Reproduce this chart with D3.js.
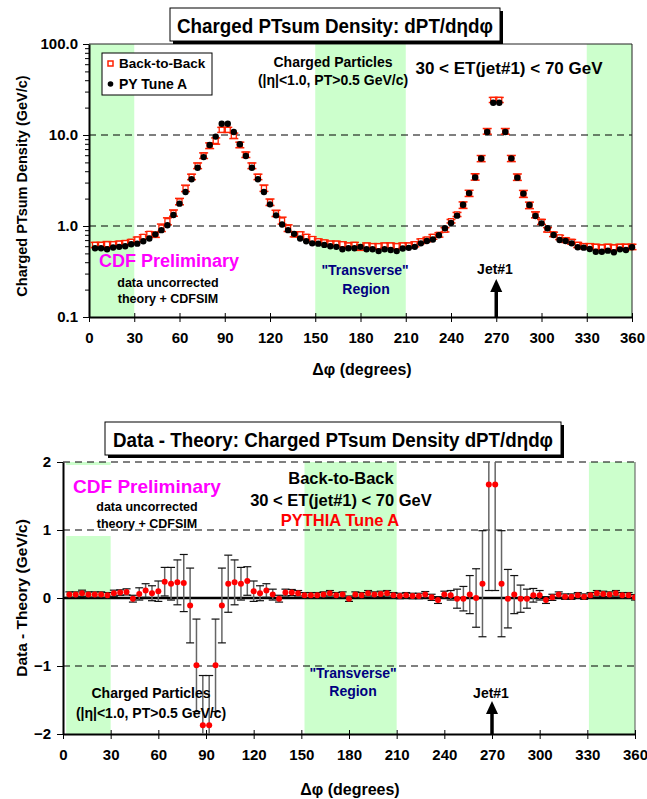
<!DOCTYPE html>
<html>
<head>
<meta charset="utf-8">
<script src="https://cdn.jsdelivr.net/npm/d3@7"></script>
<style>
body { margin: 0; background: #fff; }
text { font-family: "Liberation Sans", Arial, sans-serif; font-weight: bold; }
</style>
</head>
<body>
<div id="chart"></div>
<script>
// delta phi bin centres (degrees)
var phi = [4, 8, 12, 16, 20, 24, 28, 32, 36, 40,
	44, 48, 52, 56, 60, 64, 68, 72, 76, 80,
	84, 88, 92, 96, 100, 104, 108, 112, 116, 120,
	124, 128, 132, 136, 140, 144, 148, 152, 156, 160,
	164, 168, 172, 176, 180, 184, 188, 192, 196, 200,
	204, 208, 212, 216, 220, 224, 228, 232, 236, 240,
	244, 248, 252, 256, 260, 264, 268, 272, 276, 280,
	284, 288, 292, 296, 300, 304, 308, 312, 316, 320,
	324, 328, 332, 336, 340, 344, 348, 352, 356, 360];

// Back-to-Back data (GeV/c)
var dataVal = [0.62, 0.62, 0.63, 0.63, 0.64, 0.65, 0.67, 0.71, 0.76, 0.82,
	0.80, 0.96, 1.13, 1.39, 1.86, 2.60, 3.47, 4.60, 5.94, 7.64,
	8.61, 11.4, 11.4, 9.81, 7.79, 6.08, 4.60, 3.47, 2.61, 1.83,
	1.38, 1.15, 0.95, 0.81, 0.81, 0.76, 0.72, 0.68, 0.66, 0.64,
	0.64, 0.63, 0.61, 0.62, 0.58, 0.61, 0.60, 0.60, 0.61, 0.61,
	0.60, 0.61, 0.61, 0.63, 0.68, 0.71, 0.76, 0.80, 0.91, 1.13,
	1.34, 1.70, 2.29, 3.47, 5.52, 11.0, 24.3, 24.3, 11.0, 5.53,
	3.45, 2.26, 1.69, 1.33, 1.11, 0.91, 0.81, 0.75, 0.70, 0.67,
	0.62, 0.60, 0.60, 0.59, 0.58, 0.59, 0.58, 0.59, 0.59, 0.59];

// PY Tune A
var theoryVal = [0.57, 0.57, 0.555, 0.58, 0.59, 0.60, 0.63, 0.64, 0.68, 0.73,
	0.81, 0.90, 1.02, 1.32, 1.76, 2.36, 3.26, 4.37, 5.72, 7.75,
	9.6, 13.3, 13.3, 10.8, 7.9, 5.87, 4.37, 3.26, 2.36, 1.73,
	1.31, 1.04, 0.90, 0.82, 0.73, 0.68, 0.645, 0.64, 0.62, 0.60,
	0.59, 0.555, 0.57, 0.57, 0.59, 0.555, 0.555, 0.53, 0.555, 0.545,
	0.53, 0.565, 0.575, 0.59, 0.645, 0.684, 0.71, 0.79, 0.943, 1.08,
	1.30, 1.71, 2.30, 3.42, 5.52, 10.8, 22.6, 22.6, 10.8, 5.54,
	3.40, 2.27, 1.70, 1.29, 1.07, 0.943, 0.796, 0.702, 0.684, 0.645,
	0.583, 0.578, 0.559, 0.522, 0.522, 0.536, 0.514, 0.554, 0.545, 0.583];

// data - theory
var diffVal = [0.05, 0.05, 0.07, 0.05, 0.05, 0.05, 0.04, 0.07, 0.08, 0.09,
	-0.01, 0.06, 0.11, 0.07, 0.10, 0.24, 0.21, 0.23, 0.22, -0.11,
	-0.99, -1.87, -1.87, -0.99, -0.11, 0.21, 0.23, 0.21, 0.25, 0.10,
	0.07, 0.11, 0.05, -0.01, 0.08, 0.08, 0.07, 0.04, 0.04, 0.04,
	0.05, 0.07, 0.04, 0.05, -0.01, 0.05, 0.04, 0.07, 0.05, 0.06,
	0.07, 0.04, 0.03, 0.04, 0.03, 0.03, 0.05, 0.01, -0.03, 0.05,
	0.04, -0.01, -0.01, 0.05, 0.00, 0.21, 1.67, 1.67, 0.21, -0.01,
	0.05, -0.01, -0.01, 0.04, 0.04, -0.03, 0.01, 0.05, 0.02, 0.02,
	0.04, 0.02, 0.04, 0.07, 0.06, 0.05, 0.07, 0.04, 0.04, 0.01];

// errors (half length)
var errVal = [0.04, 0.04, 0.045, 0.04, 0.04, 0.04, 0.04, 0.045, 0.04, 0.045,
	0.05, 0.09, 0.10, 0.11, 0.15, 0.21, 0.24, 0.33, 0.42, 0.55,
	0.68, 0.73, 0.73, 0.68, 0.55, 0.42, 0.33, 0.24, 0.21, 0.15,
	0.11, 0.10, 0.08, 0.05, 0.05, 0.045, 0.04, 0.04, 0.04, 0.04,
	0.04, 0.04, 0.04, 0.04, 0.04, 0.04, 0.04, 0.04, 0.04, 0.04,
	0.04, 0.04, 0.04, 0.04, 0.04, 0.04, 0.045, 0.045, 0.05, 0.05,
	0.07, 0.14, 0.18, 0.28, 0.43, 0.78, 1.56, 1.56, 0.78, 0.43,
	0.28, 0.20, 0.14, 0.10, 0.07, 0.05, 0.045, 0.04, 0.04, 0.04,
	0.04, 0.04, 0.04, 0.04, 0.04, 0.04, 0.04, 0.04, 0.04, 0.04];

var xTicks = [0, 30, 60, 90, 120, 150, 180, 210, 240, 270, 300, 330, 360];
var topYTicks = [0.1, 1, 10, 100];
var topYLabels = ["0.1", "1.0", "10.0", "100.0"];
var botYTicks = [-2, -1, 0, 1, 2];
var topBands = [[0, 30], [150, 210], [330, 360]];
var botBands = [[2, 30], [152, 210], [331, 360]];

var svg = d3.select("#chart").append("svg")
	.attr("width", 647)
	.attr("height", 799);

var points = phi.map(function(p, i) {
	return { phi: p, data: dataVal[i], theory: theoryVal[i], diff: diffVal[i], err: errVal[i] };
});

function label(x, y, txt, size, color, anchor, len) {
	var t = svg.append("text")
		.attr("x", x)
		.attr("y", y)
		.attr("dy", "0.35em")
		.attr("text-anchor", anchor || "middle")
		.style("font-size", size + "px")
		.style("fill", color || "#000")
		.text(txt);
	if (len) t.attr("textLength", len).attr("lengthAdjust", "spacingAndGlyphs");
	return t;
}

function titleBox(x, y, w, h, txt, len) {
	svg.append("rect").attr("x", x + 3).attr("y", y + 3).attr("width", w).attr("height", h).attr("fill", "#000");
	svg.append("rect").attr("x", x).attr("y", y).attr("width", w).attr("height", h)
		.attr("fill", "#fff").attr("stroke", "#000").attr("stroke-width", 1);
	label(x + w / 2, y + h / 2 + 1, txt, 20, "#000", "middle", len);
}

function arrow(x, yTip, yBase) {
	svg.append("line").attr("x1", x).attr("x2", x).attr("y1", yBase).attr("y2", yTip + 10)
		.attr("stroke", "#000").attr("stroke-width", 3.5);
	svg.append("path")
		.attr("d", "M" + x + "," + yTip + "L" + (x - 6) + "," + (yTip + 13) + "L" + (x + 6) + "," + (yTip + 13) + "Z")
		.attr("fill", "#000");
}

// ---------------- top panel ----------------
var xTop = d3.scaleLinear().domain([0, 360]).range([89, 632]);
var yTop = d3.scaleLog().domain([0.1, 100]).range([317, 44]);

var gTop = svg.append("g");

gTop.selectAll("rect.band").data(topBands).enter().append("rect")
	.attr("class", "band")
	.attr("x", function(d) { return xTop(d[0]); })
	.attr("width", function(d) { return xTop(d[1]) - xTop(d[0]); })
	.attr("y", yTop(100))
	.attr("height", yTop(0.1) - yTop(100))
	.attr("fill", "#ccffcc");

gTop.selectAll("line.grid").data([1, 10]).enter().append("line")
	.attr("x1", xTop(0)).attr("x2", xTop(360))
	.attr("y1", function(d) { return yTop(d); })
	.attr("y2", function(d) { return yTop(d); })
	.attr("stroke", "#000").attr("stroke-dasharray", "7,5");

// frame top / right
gTop.append("path")
	.attr("d", "M" + xTop(0) + "," + yTop(100) + "H" + xTop(360) + "V" + yTop(0.1))
	.attr("fill", "none").attr("stroke", "#222").attr("stroke-width", 1);

// minor log ticks
gTop.append("g")
	.attr("transform", "translate(" + xTop(0) + ",0)")
	.call(d3.axisLeft(yTop).tickValues(yTop.ticks()).tickSize(4).tickFormat("").tickSizeOuter(0))
	.call(function(g) { g.select(".domain").remove(); });

var yAxisTop = gTop.append("g")
	.attr("transform", "translate(" + xTop(0) + ",0)")
	.call(d3.axisLeft(yTop).tickValues(topYTicks).tickSize(6).tickPadding(5).tickSizeOuter(0)
		.tickFormat(function(d, i) { return topYLabels[i]; }));

var xAxisTop = gTop.append("g")
	.attr("transform", "translate(0," + yTop(0.1) + ")")
	.call(d3.axisBottom(xTop).tickValues(xTicks).tickSize(5).tickPadding(10).tickSizeOuter(0));

[yAxisTop, xAxisTop].forEach(function(a) {
	a.select(".domain").attr("stroke-width", 2);
	a.selectAll("text").style("font-size", "15px").style("font-family", "'Liberation Sans', Arial, sans-serif").style("font-weight", "bold");
});
xAxisTop.selectAll(".tick line").attr("y1", -4);

// data error bars + squares
var capTop = 4.5;
var pTop = gTop.selectAll("g.pt").data(points).enter().append("g").attr("class", "pt");
pTop.append("line")
	.attr("x1", function(d) { return xTop(d.phi); })
	.attr("x2", function(d) { return xTop(d.phi); })
	.attr("y1", function(d) { return yTop(d.data + d.err); })
	.attr("y2", function(d) { return yTop(d.data - d.err); })
	.attr("stroke", "#ff2000").attr("stroke-width", 1.3);
pTop.selectAll("line.cap").data(function(d) { return [d.data + d.err, d.data - d.err].map(function(v) { return { phi: d.phi, v: v }; }); })
	.enter().append("line").attr("class", "cap")
	.attr("x1", function(d) { return xTop(d.phi) - capTop; })
	.attr("x2", function(d) { return xTop(d.phi) + capTop; })
	.attr("y1", function(d) { return yTop(d.v); })
	.attr("y2", function(d) { return yTop(d.v); })
	.attr("stroke", "#ff2000").attr("stroke-width", 1.5);
pTop.append("rect")
	.attr("x", function(d) { return xTop(d.phi) - 2.5; })
	.attr("y", function(d) { return yTop(d.data) - 2.5; })
	.attr("width", 5).attr("height", 5)
	.attr("fill", "#fff").attr("stroke", "#ff2000").attr("stroke-width", 1.3);

gTop.selectAll("circle.th").data(points).enter().append("circle")
	.attr("class", "th")
	.attr("cx", function(d) { return xTop(d.phi); })
	.attr("cy", function(d) { return yTop(d.theory); })
	.attr("r", 3.2)
	.attr("fill", "#000");

// legend
svg.append("rect").attr("x", 102).attr("y", 53).attr("width", 110).attr("height", 42)
	.attr("fill", "#fff").attr("stroke", "#000").attr("stroke-width", 1);
svg.append("rect").attr("x", 108).attr("y", 61).attr("width", 5).attr("height", 5)
	.attr("fill", "#fff").attr("stroke", "#ff2000").attr("stroke-width", 1.5);
svg.append("circle").attr("cx", 110.5).attr("cy", 84).attr("r", 2.8).attr("fill", "#000");
label(119, 63, "Back-to-Back", 13.5, "#000", "start");
label(119, 84, "PY Tune A", 14, "#000", "start");

titleBox(170, 8, 330, 33, "Charged PTsum Density: dPT/d\u03b7d\u03c6", 316);

label(333, 62, "Charged Particles", 14);
label(333, 80, "(|\u03b7|<1.0, PT>0.5 GeV/c)", 14);
label(509, 68, "30 < ET(jet#1) < 70 GeV", 17);
label(169, 261, "CDF Preliminary", 18, "#ff00ff");
label(168, 283, "data uncorrected", 12.5);
label(168, 299, "theory + CDFSIM", 12.5);
label(365, 270, "\"Transverse\"", 14, "#000080");
label(366, 289, "Region", 14, "#000080");
label(495, 269, "Jet#1", 14);
arrow(xTop(270), 279, yTop(0.1));

svg.append("text")
	.attr("transform", "translate(22," + 186 + ") rotate(-90)")
	.attr("text-anchor", "middle")
	.attr("dy", "0.35em")
	.style("font-size", "14.5px")
	.text("Charged PTsum Density (GeV/c)");
label(362, 369, "\u0394\u03c6  (degrees)", 16);

// ---------------- bottom panel ----------------
var xBot = d3.scaleLinear().domain([0, 360]).range([63, 635]);
var yBot = d3.scaleLinear().domain([-2, 2]).range([734, 462]);

var gBot = svg.append("g");

svg.append("clipPath").attr("id", "clipBot")
	.append("rect").attr("x", xBot(0)).attr("y", yBot(2))
	.attr("width", xBot(360) - xBot(0)).attr("height", yBot(-2) - yBot(2));

gBot.selectAll("rect.band").data(botBands).enter().append("rect")
	.attr("class", "band")
	.attr("x", function(d) { return xBot(d[0]); })
	.attr("width", function(d) { return xBot(d[1]) - xBot(d[0]); })
	.attr("y", yBot(2))
	.attr("height", yBot(-2) - yBot(2))
	.attr("fill", "#ccffcc");

// white backing of the CDF label
gBot.append("rect").attr("x", 66).attr("y", yBot(2) + 3).attr("width", 156).attr("height", 71).attr("fill", "#fff");

gBot.selectAll("line.grid").data([-1, 1, 2]).enter().append("line")
	.attr("x1", xBot(0)).attr("x2", xBot(360))
	.attr("y1", function(d) { return yBot(d); })
	.attr("y2", function(d) { return yBot(d); })
	.attr("stroke", "#000").attr("stroke-dasharray", "7,5");

gBot.append("line")
	.attr("x1", xBot(360)).attr("x2", xBot(360))
	.attr("y1", yBot(2)).attr("y2", yBot(-2))
	.attr("stroke", "#555").attr("stroke-width", 1);

var yAxisBot = gBot.append("g")
	.attr("transform", "translate(" + xBot(0) + ",0)")
	.call(d3.axisLeft(yBot).tickValues(botYTicks).tickSize(6).tickPadding(6).tickSizeOuter(0).tickFormat(d3.format("d")));

var xAxisBot = gBot.append("g")
	.attr("transform", "translate(0," + yBot(-2) + ")")
	.call(d3.axisBottom(xBot).tickValues(xTicks).tickSize(5).tickPadding(10).tickSizeOuter(0));

[yAxisBot, xAxisBot].forEach(function(a) {
	a.select(".domain").attr("stroke-width", 2);
	a.selectAll("text").style("font-size", "15px").style("font-family", "'Liberation Sans', Arial, sans-serif").style("font-weight", "bold");
});
xAxisBot.selectAll(".tick line").attr("y1", -4);

gBot.append("line")
	.attr("x1", xBot(0)).attr("x2", xBot(360))
	.attr("y1", yBot(0)).attr("y2", yBot(0))
	.attr("stroke", "#000").attr("stroke-width", 2.5);

var capBot = 4;
var pBot = gBot.append("g").attr("clip-path", "url(#clipBot)")
	.selectAll("g.pt").data(points).enter().append("g").attr("class", "pt");
pBot.append("line")
	.attr("x1", function(d) { return xBot(d.phi); })
	.attr("x2", function(d) { return xBot(d.phi); })
	.attr("y1", function(d) { return yBot(d.diff + d.err); })
	.attr("y2", function(d) { return yBot(d.diff - d.err); })
	.attr("stroke", "#666").attr("stroke-width", 1.5);
pBot.selectAll("line.cap").data(function(d) { return [d.diff + d.err, d.diff - d.err].map(function(v) { return { phi: d.phi, v: v }; }); })
	.enter().append("line").attr("class", "cap")
	.attr("x1", function(d) { return xBot(d.phi) - capBot; })
	.attr("x2", function(d) { return xBot(d.phi) + capBot; })
	.attr("y1", function(d) { return yBot(d.v); })
	.attr("y2", function(d) { return yBot(d.v); })
	.attr("stroke", "#111").attr("stroke-width", 1.2);
pBot.append("circle")
	.attr("cx", function(d) { return xBot(d.phi); })
	.attr("cy", function(d) { return yBot(d.diff); })
	.attr("r", 3)
	.attr("fill", "#ff0000");

titleBox(105, 422, 456, 33, "Data - Theory: Charged PTsum Density dPT/d\u03b7d\u03c6", 440);

label(147, 486, "CDF Preliminary", 19, "#ff00ff");
label(147, 507, "data uncorrected", 12.5);
label(147, 524, "theory + CDFSIM", 12.5);
label(341, 478, "Back-to-Back", 16.5);
label(341, 500, "30 < ET(jet#1) < 70 GeV", 16.5);
label(340, 520, "PYTHIA Tune A", 16.5, "#ff0000");
label(151, 693, "Charged Particles", 14);
label(151, 713, "(|\u03b7|<1.0, PT>0.5 GeV/c)", 14);
label(353, 673, "\"Transverse\"", 14, "#000080");
label(353, 691, "Region", 14, "#000080");
label(491, 693, "Jet#1", 14);
arrow(xBot(270), 701, yBot(-2));

svg.append("text")
	.attr("transform", "translate(22," + 598 + ") rotate(-90)")
	.attr("text-anchor", "middle")
	.attr("dy", "0.35em")
	.style("font-size", "15.5px")
	.text("Data - Theory  (GeV/c)");
label(350, 789, "\u0394\u03c6 (degrees)", 16);
</script>
</body>
</html>
